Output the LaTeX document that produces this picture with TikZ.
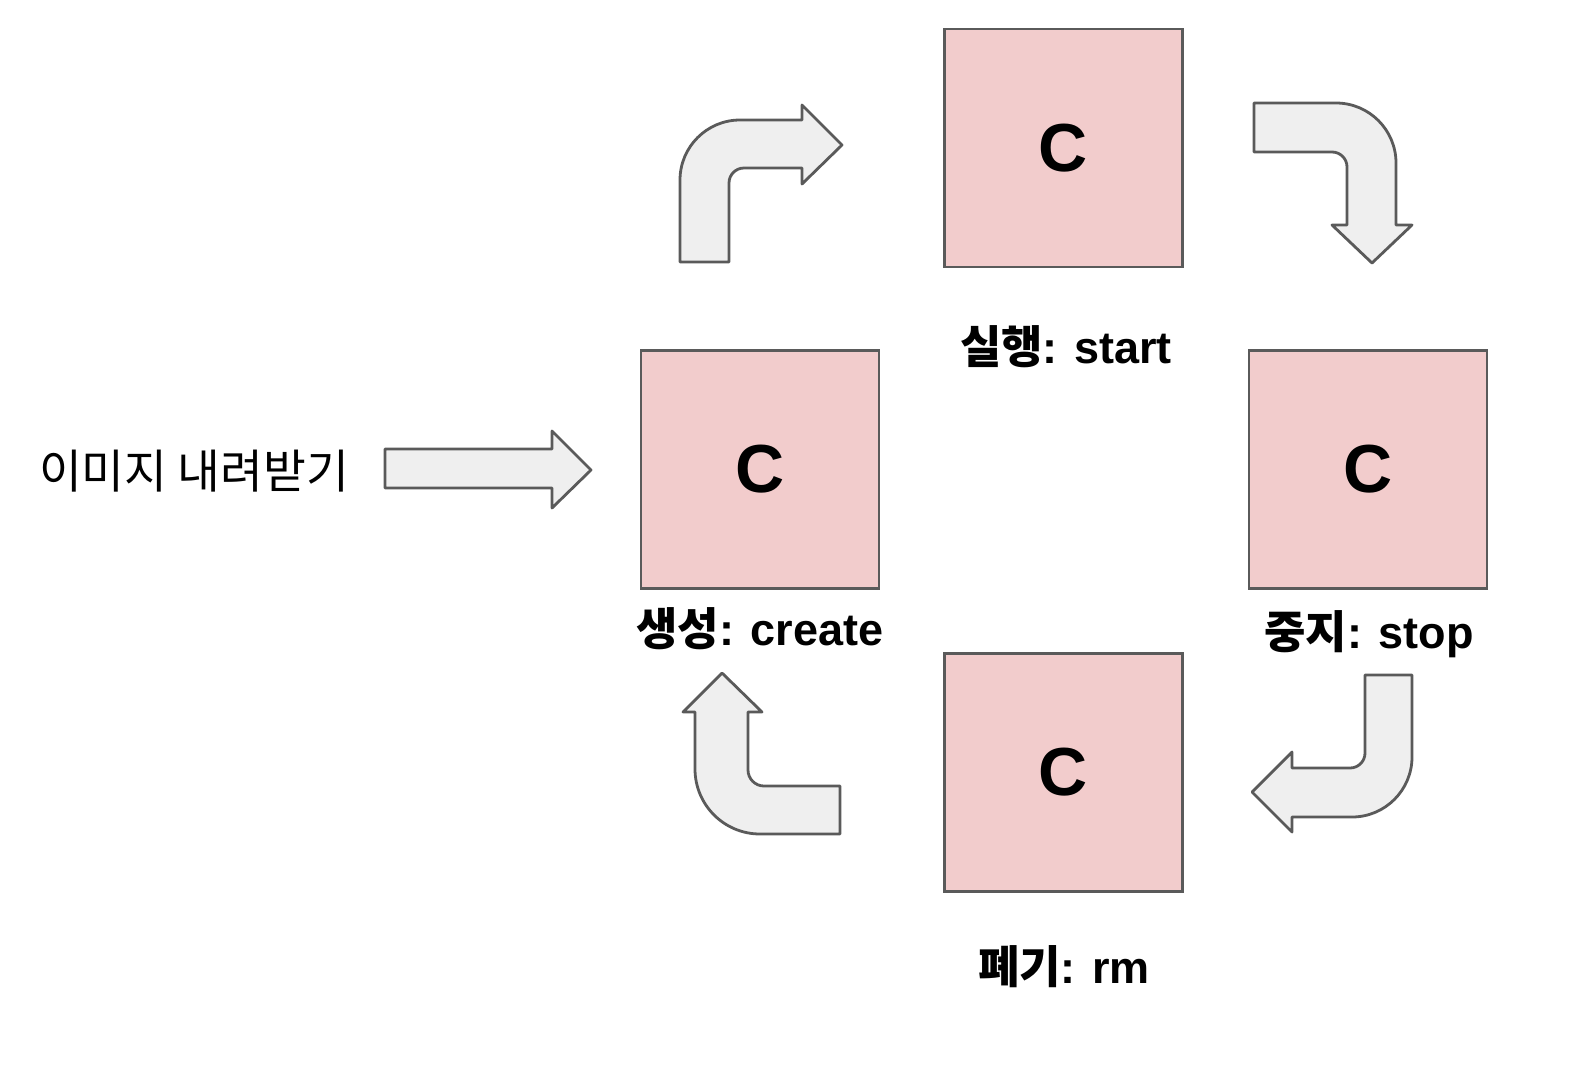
\documentclass[tikz,border=0pt]{standalone}
\usepackage{fontspec}
\setmainfont{Liberation Sans}
\newfontfamily\krfont{Noto Sans CJK KR}
\usepackage{xcolor}
\definecolor{boxpink}{HTML}{F2CCCC}
\definecolor{boxline}{HTML}{5A5A5A}
\definecolor{arrowfill}{HTML}{EFEFEF}
\definecolor{arrowline}{HTML}{5A5A5A}

\begin{document}
\begin{tikzpicture}[x=1pt, y=-1pt,
  statebox/.style={rectangle, draw=boxline, fill=boxpink, line width=2.8pt, minimum size=238pt, inner sep=0pt, font=\fontsize{68}{70}\selectfont\bfseries},
  statelabel/.style={anchor=base, inner sep=0pt, font=\fontsize{45}{48}\selectfont\bfseries},
  blockarrow/.style={draw=arrowline, fill=arrowfill, line width=2.8pt, line join=round}]
\useasboundingbox (0,0) rectangle (1570,1066);

% the four container states
\node[statebox] at (1063.5, 148.0) (running) {C};
\node[statebox] at (760.0, 469.5) (created) {C};
\node[statebox] at (1368.0, 469.5) (stopped) {C};
\node[statebox] at (1063.5, 772.5) (removed) {C};

\node[statelabel] at (1066, 363) (lrunning) {{\krfont 실행}: start};
\node[statelabel] at (760, 645) (lcreated) {{\krfont 생성}: create};
\node[statelabel] at (1369, 648) (lstopped) {{\krfont 중지}: stop};
\node[statelabel] at (1064, 983) (lremoved) {{\krfont 폐기}: rm};

\node[anchor=base west, inner sep=0pt, font=\fontsize{46.5}{48}\selectfont\krfont] at (39, 488) (pull) {이미지 내려받기};

% pull -> create
\draw[blockarrow] (385,449) -- (552,449) -- (552,431) -- (591,470) -- (552,508) -- (552,488) -- (385,488) -- cycle;

% create -> start
\draw[blockarrow] (680,262) -- (680,180) .. controls (680,146.9) and (706.9,120) .. (740,120) -- (802,120) -- (802,105) -- (842,145) -- (802,184) -- (802,168) -- (744,168) .. controls (735.7,168) and (729,174.7) .. (729,183) -- (729,262) -- cycle;

% start -> stop
\draw[blockarrow] (1254,103) -- (1336,103) .. controls (1369.1,103) and (1396,129.9) .. (1396,163) -- (1396,225) -- (1412,225) -- (1372,263) -- (1332,225) -- (1347,225) -- (1347,167) .. controls (1347,158.7) and (1340.3,152) .. (1332,152) -- (1254,152) -- cycle;

% stop -> rm
\draw[blockarrow] (1365,675) -- (1412,675) -- (1412,757) .. controls (1412,790.1) and (1385.1,817) .. (1352,817) -- (1292,817) -- (1292,832) -- (1252,792) -- (1292,752) -- (1292,768) -- (1350,768) .. controls (1358.3,768) and (1365,761.3) .. (1365,753) -- cycle;

% rm -> create
\draw[blockarrow] (840,786) -- (764,786) .. controls (755.2,786) and (748,778.8) .. (748,770) -- (748,712) -- (762,712) -- (722,673) -- (683,712) -- (695,712) -- (695,769) .. controls (695,804.9) and (724.1,834) .. (760,834) -- (840,834) -- cycle;

\end{tikzpicture}
\end{document}
